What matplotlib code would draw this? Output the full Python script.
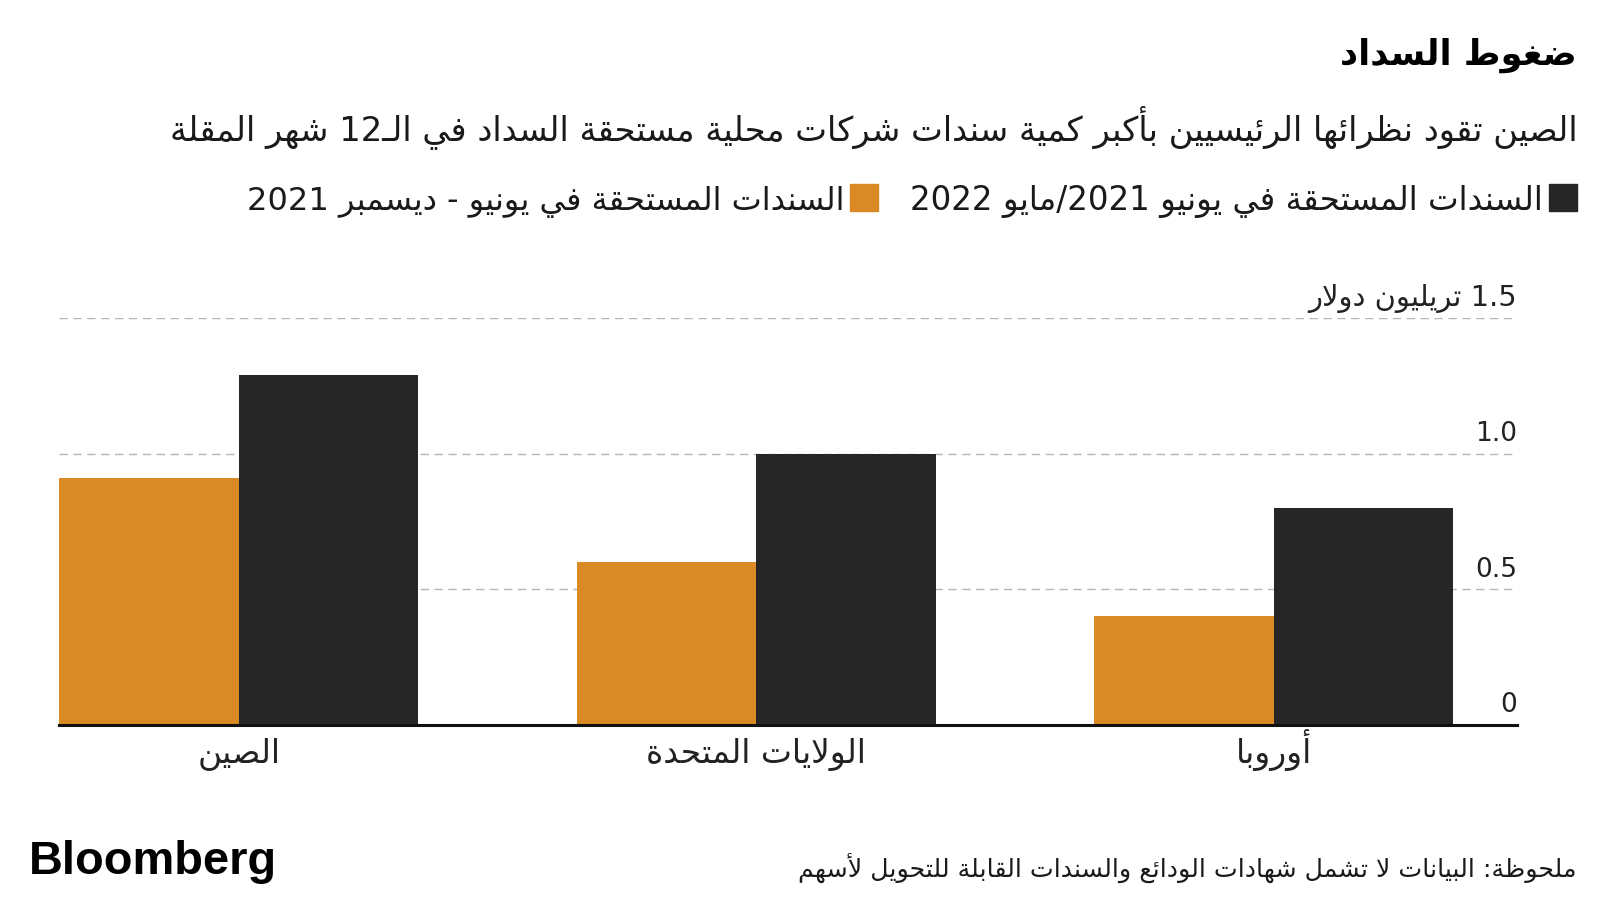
import re
import numpy as np
import matplotlib
matplotlib.use("Agg")
import matplotlib.pyplot as plt
from matplotlib.patches import Rectangle

# ---------------- data ----------------
categories = ["الصين", "الولايات المتحدة", "أوروبا"]
due_jun_dec_2021 = [0.91, 0.60, 0.40]      # orange
due_jun21_may22 = [1.29, 1.00, 0.80]       # black
y_ticks = [0, 0.5, 1.0, 1.5]
y_tick_labels = ["0", "0.5", "1.0", "1.5 تريليون دولار"]

title = "ضغوط السداد"
subtitle = "الصين تقود نظرائها الرئيسيين بأكبر كمية سندات شركات محلية مستحقة السداد في الـ12 شهر المقلة"
legend_black = "السندات المستحقة في يونيو 2021/مايو 2022"
legend_orange = "السندات المستحقة في يونيو - ديسمبر 2021"
note = "ملحوظة: البيانات لا تشمل شهادات الودائع والسندات القابلة للتحويل لأسهم"

ORANGE = "#D98A25"
BLACK = "#262626"

# ---------------- Arabic shaping + simple RTL ordering ----------------
_T = [(0x0621, 0xFE80, 1), (0x0622, 0xFE81, 2), (0x0623, 0xFE83, 2), (0x0624, 0xFE85, 2),
      (0x0625, 0xFE87, 2), (0x0626, 0xFE89, 4), (0x0627, 0xFE8D, 2), (0x0628, 0xFE8F, 4),
      (0x0629, 0xFE93, 2), (0x062A, 0xFE95, 4), (0x062B, 0xFE99, 4), (0x062C, 0xFE9D, 4),
      (0x062D, 0xFEA1, 4), (0x062E, 0xFEA5, 4), (0x062F, 0xFEA9, 2), (0x0630, 0xFEAB, 2),
      (0x0631, 0xFEAD, 2), (0x0632, 0xFEAF, 2), (0x0633, 0xFEB1, 4), (0x0634, 0xFEB5, 4),
      (0x0635, 0xFEB9, 4), (0x0636, 0xFEBD, 4), (0x0637, 0xFEC1, 4), (0x0638, 0xFEC5, 4),
      (0x0639, 0xFEC9, 4), (0x063A, 0xFECD, 4), (0x0641, 0xFED1, 4), (0x0642, 0xFED5, 4),
      (0x0643, 0xFED9, 4), (0x0644, 0xFEDD, 4), (0x0645, 0xFEE1, 4), (0x0646, 0xFEE5, 4),
      (0x0647, 0xFEE9, 4), (0x0648, 0xFEED, 2), (0x0649, 0xFEEF, 2), (0x064A, 0xFEF1, 4)]
FORMS = {c: (b, n) for c, b, n in _T}
LAMALEF = {0x0622: 0xFEF5, 0x0623: 0xFEF7, 0x0625: 0xFEF9, 0x0627: 0xFEFB}


def _jtype(u):
    kind, c = u
    if kind == "LA":
        return "R"
    o = ord(c)
    if o == 0x0640:
        return "D"
    if o in FORMS:
        return {1: "U", 2: "R", 4: "D"}[FORMS[o][1]]
    return None


def shape(s):
    units = []
    i = 0
    while i < len(s):
        if ord(s[i]) == 0x0644 and i + 1 < len(s) and ord(s[i + 1]) in LAMALEF:
            units.append(("LA", s[i + 1]))
            i += 2
        else:
            units.append(("C", s[i]))
            i += 1
    out = []
    for k, u in enumerate(units):
        t = _jtype(u)
        prev = k > 0 and _jtype(units[k - 1]) == "D" and t in ("D", "R")
        nxt = t == "D" and k + 1 < len(units) and _jtype(units[k + 1]) in ("D", "R")
        if u[0] == "LA":
            out.append(chr(LAMALEF[ord(u[1])] + (1 if prev else 0)))
            continue
        o = ord(u[1])
        if o not in FORMS:
            out.append(u[1])
            continue
        base, n = FORMS[o]
        if n == 1:
            idx = 0
        elif n == 2:
            idx = 1 if prev else 0
        else:
            idx = 3 if (prev and nxt) else 1 if prev else 2 if nxt else 0
        out.append(chr(base + idx))
    return "".join(out)


def ar(s):
    s = shape(s)
    parts = re.split(r"([0-9A-Za-z]+(?:\.[0-9]+)*)", s)
    items = []
    for p in parts:
        if not p:
            continue
        if re.fullmatch(r"[0-9A-Za-z]+(?:\.[0-9]+)*", p):
            items.append(p)
        else:
            items.extend(list(p))
    return "".join(reversed(items))


plt.rcParams["font.family"] = ["DejaVu Sans"]

W, H = 1600, 900
fig = plt.figure(figsize=(16, 9), dpi=100)
fig.patch.set_facecolor("white")


def fx(px):
    return px / W


def fy(py):
    return 1 - py / H


ax_left, ax_right, ax_bottom, ax_top = 59.2, 1517.3, 724.5, 318.4
ax = fig.add_axes([fx(ax_left), fy(ax_bottom), (ax_right - ax_left) / W, (ax_bottom - ax_top) / H])

x = np.arange(len(categories))
w = 0.347
ax.bar(x - w / 2, due_jun_dec_2021, w, color=ORANGE, zorder=3)
ax.bar(x + w / 2, due_jun21_may22, w, color=BLACK, zorder=3)
ax.set_xlim(-w, 2.471)
ax.set_ylim(0, 1.5)

for s in ["top", "left", "right"]:
    ax.spines[s].set_visible(False)
ax.spines["bottom"].set_linewidth(2.2)
ax.spines["bottom"].set_color("#111111")
ax.spines["bottom"].set_zorder(4)

ax.set_yticks(y_ticks)
ax.tick_params(axis="y", length=0, labelleft=False)
ax.yaxis.grid(True, linestyle=(0, (6, 4)), color="#b5b5b5", linewidth=1.0, zorder=0)
ax.set_axisbelow(True)

ax.set_xticks(x)
ax.set_xticklabels([ar(c) for c in categories], fontsize=19, color="#222222")
ax.tick_params(axis="x", length=0, pad=27.5)

renderer = fig.canvas.get_renderer()


def fit(t, target):
    wd = t.get_window_extent(renderer).width
    t.set_fontsize(t.get_fontsize() * target / wd)
    return t


ytrans = ax.get_yaxis_transform()
for v, lab in zip(y_ticks, y_tick_labels):
    t = ax.annotate(ar(lab), xy=(1.0, v), xycoords=ytrans, xytext=(0, 9),
                    textcoords="offset points", ha="right", va="baseline",
                    fontsize=19, color="#222222", annotation_clip=False)
    if v == 1.5:
        fit(t, 209)

# x tick labels: one common size, fitted on the longest label, aligned on baseline
xtl = ax.get_xticklabels()
fit(xtl[1], 219)
for tl in xtl:
    tl.set_fontsize(xtl[1].get_fontsize())
    tl.set_verticalalignment("baseline")

# title, subtitle
t = fig.text(fx(1577), fy(65), ar(title), ha="right", va="baseline",
             fontsize=26, fontweight="bold", color="#000000")
fit(t, 237)
t = fig.text(fx(1578), fy(140), ar(subtitle), ha="right", va="baseline",
             fontsize=20, color="#1a1a1a")
fit(t, 1410)

# legend
fig.patches.append(Rectangle((fx(1549), fy(211)), 28 / W, 27 / H, transform=fig.transFigure,
                             color=BLACK, figure=fig))
t = fig.text(fx(1543), fy(210), ar(legend_black), ha="right", va="baseline",
             fontsize=19, color="#1a1a1a")
fit(t, 632)
fig.patches.append(Rectangle((fx(850), fy(211)), 28 / W, 27 / H, transform=fig.transFigure,
                             color=ORANGE, figure=fig))
t = fig.text(fx(845), fy(210), ar(legend_orange), ha="right", va="baseline",
             fontsize=19, color="#1a1a1a")
fit(t, 595)

# note
t = fig.text(fx(1577), fy(877), ar(note), ha="right", va="baseline",
             fontsize=15, color="#1a1a1a")
fit(t, 778)

# Bloomberg
t = fig.text(fx(28.6), fy(873.5), "Bloomberg", ha="left", va="baseline",
             fontsize=32, fontweight="bold", family="Liberation Sans", color="#000000")
fit(t, 249)

fig.savefig("out.png", dpi=100, facecolor="white")
